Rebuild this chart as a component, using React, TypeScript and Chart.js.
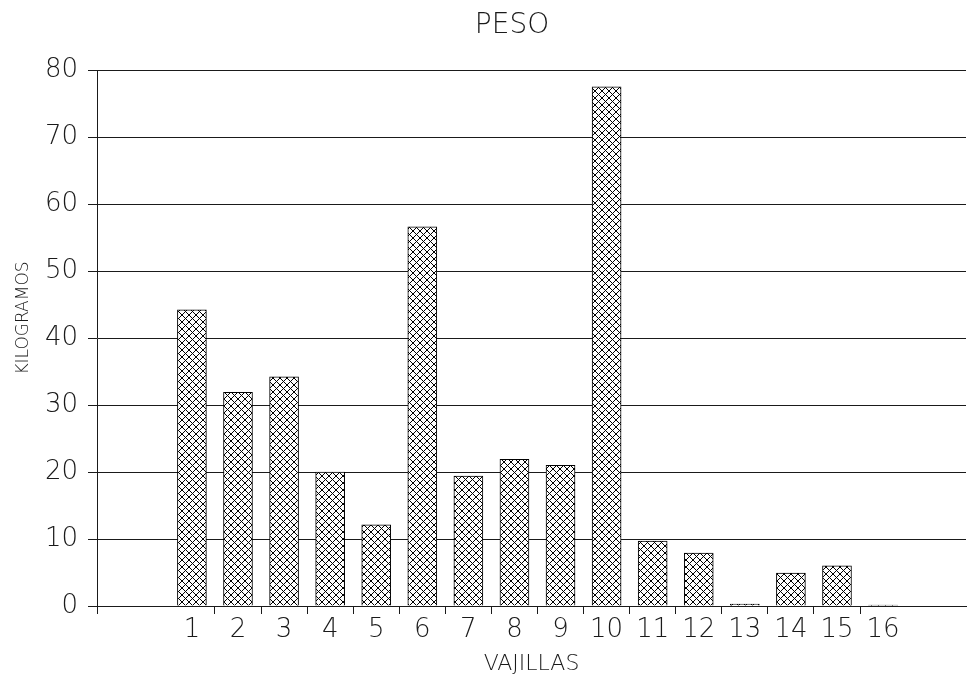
import React, { useEffect, useRef } from "react";
import { Chart, registerables } from "chart.js";

Chart.register(...registerables);

const categories = ["1", "2", "3", "4", "5", "6", "7", "8", "9", "10", "11", "12", "13", "14", "15", "16"];
const pesoKg = [44.2, 31.9, 34.2, 20.0, 12.1, 56.6, 19.4, 21.9, 21.0, 77.5, 9.7, 7.9, 0.3, 4.9, 6.0, 0.15];
const yMin = 0;
const yMax = 80;
const yStep = 10;
const chartTitle = "PESO";
const xTitle = "VAJILLAS";
const yTitle = "KILOGRAMOS";

const FONT = "'DejaVu Sans', 'Liberation Sans', sans-serif";
const INK = "#1a1a1a";

function makeHatch(): CanvasPattern | string {
  const n = 7;
  const c = document.createElement("canvas");
  c.width = n;
  c.height = n;
  const g = c.getContext("2d");
  if (!g) return "#ccc";
  g.fillStyle = "#ffffff";
  g.fillRect(0, 0, n, n);
  g.fillStyle = "#000000";
  for (let i = 0; i < n; i++) {
    g.fillRect(i, i, 1, 1);
    g.fillRect(n - 1 - i, i, 1, 1);
  }
  const p = g.createPattern(c, "repeat");
  return p || "#ccc";
}

const titlesPlugin = {
  id: "customTitles",
  afterDraw(chart: any) {
    const ctx = chart.ctx;
    ctx.save();
    ctx.fillStyle = INK;
    ctx.textAlign = "center";
    ctx.textBaseline = "middle";
    ctx.font = `200 28px ${FONT}`;
    ctx.fillText(chartTitle, 512, 26);
    ctx.translate(24, 318);
    ctx.rotate(-Math.PI / 2);
    ctx.font = `200 17px ${FONT}`;
    ctx.fillText(yTitle, 0, 0);
    ctx.restore();
  },
};

export default function App() {
  const ref = useRef<HTMLCanvasElement | null>(null);

  useEffect(() => {
    if (!ref.current) return;
    const hatch = makeHatch();
    const xMinVal = -1.06;
    const xMaxVal = 17.8;
    const chart = new Chart(ref.current, {
      type: "bar",
      plugins: [titlesPlugin],
      data: {
        datasets: [
          {
            label: chartTitle,
            data: categories.map((c, i) => ({ x: i + 1, y: pesoKg[i] })),
            backgroundColor: hatch as any,
            borderColor: "#000",
            borderWidth: 1,
            barThickness: 29,
          },
        ],
      },
      options: {
        animation: false,
        responsive: true,
        maintainAspectRatio: false,
        layout: { padding: { left: 0, right: 3, top: 70, bottom: 0 } },
        plugins: {
          legend: { display: false },
          tooltip: { enabled: false },
          title: { display: false },
        },
        scales: {
          x: {
            type: "linear",
            offset: false,
            min: xMinVal,
            max: xMaxVal,
            afterBuildTicks: (scale: any) => {
              const vals: number[] = [xMinVal];
              for (let i = 1; i <= categories.length; i++) {
                vals.push(i);
                if (i < categories.length) vals.push(i + 0.5);
              }
              vals.sort((a, b) => a - b);
              scale.ticks = vals.map((v) => ({ value: v }));
            },
            afterFit: (scale: any) => {
              scale.height = 76;
            },
            ticks: {
              autoSkip: false,
              maxRotation: 0,
              minRotation: 0,
              padding: 1,
              color: INK,
              font: { family: FONT, size: 26, weight: "200" as any },
              callback: (value: any) => {
                const v = Number(value);
                return Number.isInteger(v) && v >= 1 && v <= categories.length ? categories[v - 1] : "";
              },
            },
            grid: {
              offset: false,
              drawOnChartArea: false,
              drawTicks: true,
              tickLength: 8,
              color: (ctx: any) =>
                ctx.tick && Number.isInteger(ctx.tick.value) ? "rgba(0,0,0,0)" : INK,
            },
            border: { display: true, color: INK, width: 1 },
            title: {
              display: true,
              text: xTitle,
              color: INK,
              font: { family: FONT, size: 22, weight: "200" as any, lineHeight: 1.2 },
              padding: { top: 0, bottom: 5 },
            },
          },
          y: {
            min: yMin,
            max: yMax,
            afterFit: (scale: any) => {
              scale.width = 97;
            },
            ticks: {
              stepSize: yStep,
              padding: 10,
              color: INK,
              font: { family: FONT, size: 26, weight: "200" as any },
            },
            grid: {
              color: INK,
              lineWidth: 1,
              drawTicks: true,
              tickLength: 9,
            },
            border: { display: true, color: INK, width: 1 },
            title: { display: false },
          },
        },
      },
    });
    return () => chart.destroy();
  }, []);

  return (
    <div style={{ position: "fixed", left: 0, top: 0, width: 969, height: 682, background: "#fff" }}>
      <canvas ref={ref} />
    </div>
  );
}
